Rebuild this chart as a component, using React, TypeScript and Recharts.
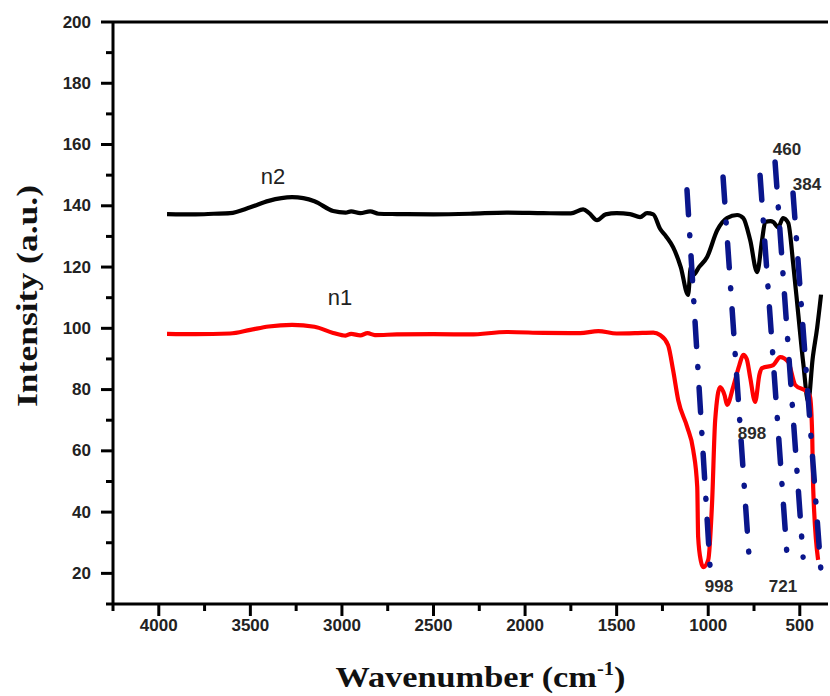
import { LineChart, Line, XAxis, YAxis, ReferenceLine, ReferenceDot, Label } from "recharts";

// n2 (black) spectrum
const n2Wavenumber = [
  3955, 3800, 3700, 3611, 3500, 3400, 3272, 3150, 3048, 2980, 2950, 2900, 2846, 2800,
  2700, 2500, 2300, 2100, 1900, 1750, 1683, 1650, 1607, 1560, 1500, 1427, 1372, 1334,
  1300, 1263, 1230, 1192, 1150, 1110, 1095, 1082, 1050, 1006, 951, 897, 842, 809, 771,
  733, 706, 689, 660, 645, 618, 591, 563, 536, 509, 480, 454, 430, 405, 384,
];
const n2Intensity = [
  137.3, 137.2, 137.4, 137.6, 139.5, 141.6, 142.8, 141.5, 138.3, 137.8, 138.2, 137.6, 138.2, 137.4,
  137.3, 137.2, 137.4, 137.8, 137.6, 137.5, 138.8, 137.6, 135.3, 137.2, 137.6, 137.3, 136.3, 137.6,
  137.2, 132.5, 130, 126.5, 120, 110.9, 120, 117.4, 120, 123.3, 132, 136, 137, 136, 128.8,
  118.3, 128.8, 134.7, 135, 134.7, 133, 136, 134.4, 121, 105, 88, 76, 90, 100.3, 111,
];

// n1 (red) spectrum
const n1Wavenumber = [
  3955, 3800, 3611, 3500, 3400, 3272, 3150, 3048, 2980, 2950, 2900, 2860, 2820, 2700,
  2500, 2300, 2100, 1900, 1700, 1600, 1500, 1400, 1300, 1263, 1219, 1192, 1164, 1115,
  1082, 1060, 1055, 1040, 1027, 1000, 979, 962, 935, 910, 897, 864, 830, 809, 790, 771,
  744, 720, 706, 645, 607, 563, 525, 460, 444, 432, 427, 400,
];
const n1Intensity = [
  98.2, 98.1, 98.3, 99.5, 100.6, 101.1, 100.5, 98.5, 97.6, 98.2, 97.7, 98.4, 97.8, 98,
  98.1, 98, 98.8, 98.5, 98.4, 99.1, 98.3, 98.4, 98.6, 97.8, 94.5, 86.4, 76.6, 67.8,
  60.3, 48.2, 31.9, 24, 22, 24.4, 43, 70, 80.8, 78, 75, 80.8, 88, 91.3, 90, 84,
  76, 85, 87, 88, 90.6, 89, 81.5, 79.2, 77.6, 64.5, 48, 24.4,
];

// dash-dot guide lines (top and bottom ends)
const guideTopX = [1116, 919, 717, 635, 537];
const guideTopY = [145.2, 149.4, 150.0, 154.3, 144.2];
const guideBottomX = [985, 772, 564, 482, 378];
const guideBottomY = [17.2, 21.1, 21.1, 25.3, 15.6];

// text annotations
const peakText = ["460", "384", "898", "998", "721"];
const peakX = [570, 461, 761, 941, 592];
const peakY = [158.5, 146.8, 65.8, 15.6, 15.6];
const seriesText = ["n2", "n1"];
const seriesTextX = [3376, 3010];
const seriesTextY = [149.4, 110.2];

const xTicks = [4250, 4000, 3750, 3500, 3250, 3000, 2750, 2500, 2250, 2000, 1750, 1500, 1250, 1000, 750, 500];
const yTicks = [10, 20, 30, 40, 50, 60, 70, 80, 90, 100, 110, 120, 130, 140, 150, 160, 170, 180, 190, 200];

const n2Data = n2Wavenumber.map((x, i) => ({ x, y: n2Intensity[i] }));
const n1Data = n1Wavenumber.map((x, i) => ({ x, y: n1Intensity[i] }));

const SANS = "'Liberation Sans', Arial, sans-serif";
const SERIF = "'Liberation Serif', 'Times New Roman', serif";
const NAVY = "#0a168c";

function XTick({ x, y, payload }: any) {
  const v = payload.value as number;
  const major = v % 500 === 0;
  return (
    <g>
      <line x1={x} x2={x} y1={y} y2={y + (major ? 12 : 7)} stroke="#000" strokeWidth={3} />
      {major && (
        <text x={x} y={y + 27} textAnchor="middle" fontFamily={SANS} fontWeight="bold" fontSize={17} fill="#222">
          {v}
        </text>
      )}
    </g>
  );
}

function YTick({ x, y, payload }: any) {
  const v = payload.value as number;
  const major = v % 20 === 0;
  return (
    <g>
      <line x1={x} x2={x - (major ? 12 : 7)} y1={y} y2={y} stroke="#000" strokeWidth={3} />
      {major && (
        <text x={x - 22} y={y} textAnchor="end" dominantBaseline="central" fontFamily={SANS} fontWeight="bold" fontSize={17} fill="#222">
          {v}
        </text>
      )}
    </g>
  );
}

export default function App() {
  return (
    <div style={{ position: "absolute", left: 0, top: 0, background: "#fff" }}>
      <LineChart width={830} height={696} margin={{ top: 22, right: 2, bottom: 0, left: 0 }}>
        <XAxis
          type="number"
          dataKey="x"
          reversed
          domain={[346, 4250]}
          allowDataOverflow
          ticks={xTicks}
          interval={0}
          height={92}
          tickLine={false}
          tickSize={0}
          tickMargin={0}
          axisLine={{ stroke: "#000", strokeWidth: 3 }}
          tick={(p: any) => <XTick {...p} />}
        >
          <Label
            content={({ viewBox }: any) => (
              <text
                x={viewBox.x + viewBox.width / 2 + 10}
                y={viewBox.y + 83}
                textAnchor="middle"
                fontFamily={SERIF}
                fontWeight="bold"
                fontSize={30}
                fill="#111"
                textLength={290}
                lengthAdjust="spacingAndGlyphs"
              >
                <tspan>Wavenumber (cm</tspan>
                <tspan dy={-12} fontSize={18}>-1</tspan>
                <tspan dy={12}>)</tspan>
              </text>
            )}
          />
        </XAxis>
        <YAxis
          type="number"
          domain={[10, 200]}
          allowDataOverflow
          ticks={yTicks}
          interval={0}
          width={113}
          tickLine={false}
          tickSize={0}
          tickMargin={0}
          axisLine={{ stroke: "#000", strokeWidth: 3 }}
          tick={(p: any) => <YTick {...p} />}
        >
          <Label
            content={() => (
              <text
                x={37}
                y={296}
                transform="rotate(-90 37 296)"
                textAnchor="middle"
                fontFamily={SERIF}
                fontWeight="bold"
                fontSize={30}
                fill="#111"
                textLength={222}
                lengthAdjust="spacingAndGlyphs"
              >
                Intensity (a.u.)
              </text>
            )}
          />
        </YAxis>
        <ReferenceLine y={200} stroke="#000" strokeWidth={3} ifOverflow="visible" />
        <Line
          data={n2Data}
          dataKey="y"
          type="monotone"
          stroke="#000"
          strokeWidth={4.2}
          strokeLinejoin="round"
          dot={false}
          isAnimationActive={false}
        />
        <Line
          data={n1Data}
          dataKey="y"
          type="monotone"
          stroke="#ff0000"
          strokeWidth={4.2}
          strokeLinejoin="round"
          dot={false}
          isAnimationActive={false}
        />
        {guideTopX.map((x, i) => (
          <ReferenceLine
            key={"g" + i}
            segment={[
              { x, y: guideTopY[i] },
              { x: guideBottomX[i], y: guideBottomY[i] },
            ]}
            stroke={NAVY}
            strokeWidth={5.5}
            strokeDasharray="25 20 1 20"
            strokeLinecap="round"
            ifOverflow="visible"
          />
        ))}
        {peakText.map((t, i) => (
          <ReferenceDot
            key={"p" + i}
            x={peakX[i]}
            y={peakY[i]}
            r={0}
            ifOverflow="visible"
            shape={(p: any) => (
              <text x={p.cx} y={p.cy} textAnchor="middle" dominantBaseline="central" fontFamily={SANS} fontWeight="bold" fontSize={17} fill="#2a2a2a">
                {t}
              </text>
            )}
          />
        ))}
        {seriesText.map((t, i) => (
          <ReferenceDot
            key={"s" + i}
            x={seriesTextX[i]}
            y={seriesTextY[i]}
            r={0}
            ifOverflow="visible"
            shape={(p: any) => (
              <text x={p.cx} y={p.cy} textAnchor="middle" dominantBaseline="central" fontFamily={SANS} fontSize={22} fill="#222">
                {t}
              </text>
            )}
          />
        ))}
      </LineChart>
    </div>
  );
}
